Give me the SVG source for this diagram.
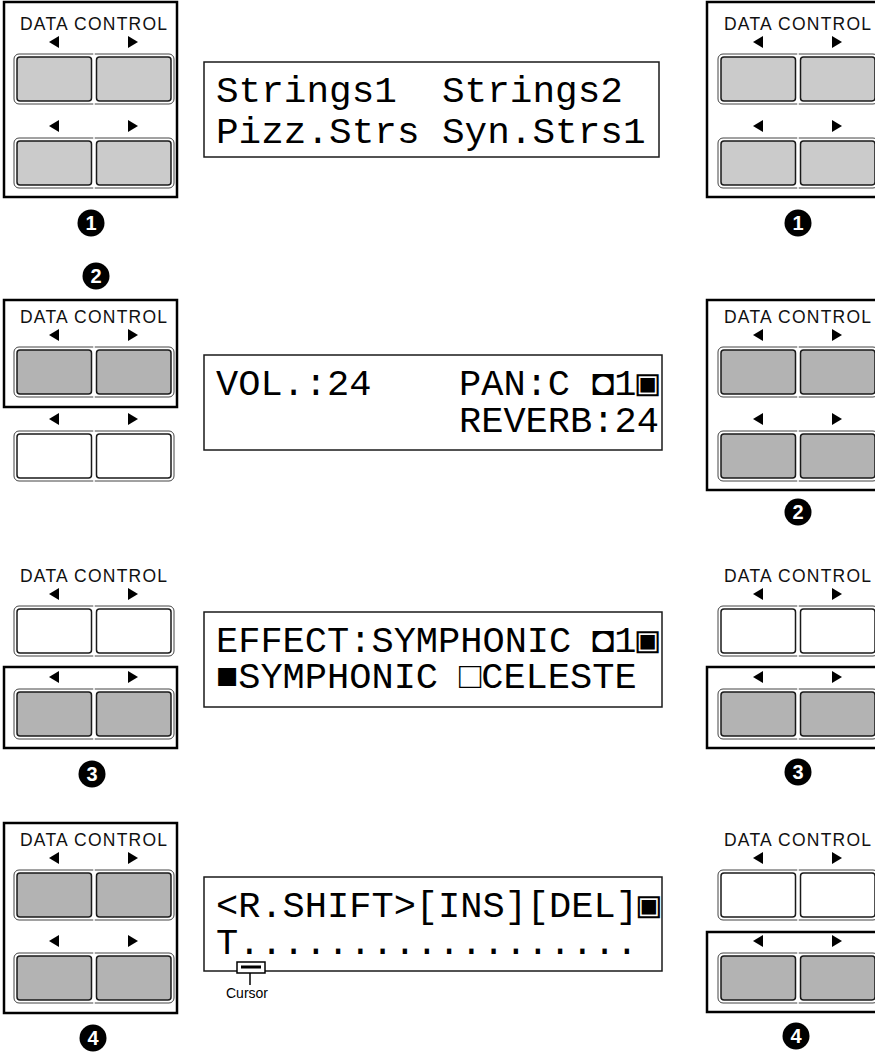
<svg xmlns="http://www.w3.org/2000/svg" xmlns:xlink="http://www.w3.org/1999/xlink" width="875" height="1055" viewBox="0 0 875 1055">
<style>
.frame{fill:none;stroke:#000;stroke-width:2.5}
.lbl{font-family:"Liberation Sans",Arial,sans-serif;font-size:17.5px;fill:#111}
.arr{fill:#000}
.outer{fill:#fff;stroke:#444;stroke-width:1}
.btn{stroke:#1a1a1a;stroke-width:1.5}
.lt{fill:#cbcbcb}
.dk{fill:#b3b3b3}
.wh{fill:#fff}
.lcd{fill:#fff;stroke:#1a1a1a;stroke-width:1.5}
.lcdt{font-family:"Liberation Mono","DejaVu Sans Mono",monospace;font-size:37px;fill:#000}
.lcdt1{font-size:37.7px}
.num circle{fill:#000}
.num text{font-family:"Liberation Sans",Arial,sans-serif;font-weight:bold;font-size:20px;fill:#fff;text-anchor:middle}
.cap{font-family:"Liberation Sans",Arial,sans-serif;font-size:14px;fill:#000;text-anchor:middle}
</style>
<defs>
<g id="pair">
<rect class="outer" x="0" y="0" width="160" height="50" rx="5"/>
<rect class="btn" x="3" y="3" width="74.5" height="44" rx="3"/>
<rect class="btn" x="82.5" y="3" width="74.5" height="44" rx="3"/>
<line x1="80" y1="-1" x2="80" y2="51" stroke="#fff" stroke-width="1.5"/>
</g>
<g id="arrows">
<polygon class="arr" points="35,0 45,-6 45,6"/>
<polygon class="arr" points="114,-6 124,0 114,6"/>
</g>
</defs>

<g id="panel-1-left">
<rect class="frame" x="4" y="2" width="173" height="195"/>
<text class="lbl" x="20" y="30" textLength="147" lengthAdjust="spacing">DATA CONTROL</text>
<use xlink:href="#arrows" x="14" y="42"/>
<use xlink:href="#pair" x="14" y="54" class="lt"/>
<use xlink:href="#arrows" x="14" y="126"/>
<use xlink:href="#pair" x="14" y="138" class="lt"/>
</g>
<g id="panel-1-right">
<rect class="frame" x="707" y="2" width="200" height="195"/>
<text class="lbl" x="724" y="30" textLength="147" lengthAdjust="spacing">DATA CONTROL</text>
<use xlink:href="#arrows" x="718" y="42"/>
<use xlink:href="#pair" x="718" y="54" class="lt"/>
<use xlink:href="#arrows" x="718" y="126"/>
<use xlink:href="#pair" x="718" y="138" class="lt"/>
</g>

<g id="panel-2-left">
<rect class="frame" x="4" y="300" width="173" height="107"/>
<text class="lbl" x="20" y="323" textLength="147" lengthAdjust="spacing">DATA CONTROL</text>
<use xlink:href="#arrows" x="14" y="335"/>
<use xlink:href="#pair" x="14" y="347" class="dk"/>
<use xlink:href="#arrows" x="14" y="419"/>
<use xlink:href="#pair" x="14" y="431" class="wh"/>
</g>
<g id="panel-2-right">
<rect class="frame" x="707" y="300" width="200" height="190"/>
<text class="lbl" x="724" y="323" textLength="147" lengthAdjust="spacing">DATA CONTROL</text>
<use xlink:href="#arrows" x="718" y="335"/>
<use xlink:href="#pair" x="718" y="347" class="dk"/>
<use xlink:href="#arrows" x="718" y="419"/>
<use xlink:href="#pair" x="718" y="431" class="dk"/>
</g>

<g id="panel-3-left">
<rect class="frame" x="4" y="667" width="173" height="81"/>
<text class="lbl" x="20" y="582" textLength="147" lengthAdjust="spacing">DATA CONTROL</text>
<use xlink:href="#arrows" x="14" y="594"/>
<use xlink:href="#pair" x="14" y="606" class="wh"/>
<use xlink:href="#arrows" x="14" y="677"/>
<use xlink:href="#pair" x="14" y="689" class="dk"/>
</g>
<g id="panel-3-right">
<rect class="frame" x="707" y="667" width="200" height="81"/>
<text class="lbl" x="724" y="582" textLength="147" lengthAdjust="spacing">DATA CONTROL</text>
<use xlink:href="#arrows" x="718" y="594"/>
<use xlink:href="#pair" x="718" y="606" class="wh"/>
<use xlink:href="#arrows" x="718" y="677"/>
<use xlink:href="#pair" x="718" y="689" class="dk"/>
</g>

<g id="panel-4-left">
<rect class="frame" x="4" y="823" width="173" height="190"/>
<text class="lbl" x="20" y="846" textLength="147" lengthAdjust="spacing">DATA CONTROL</text>
<use xlink:href="#arrows" x="14" y="858"/>
<use xlink:href="#pair" x="14" y="870" class="dk"/>
<use xlink:href="#arrows" x="14" y="941"/>
<use xlink:href="#pair" x="14" y="953" class="dk"/>
</g>
<g id="panel-4-right">
<rect class="frame" x="707" y="932" width="200" height="80"/>
<text class="lbl" x="724" y="846" textLength="147" lengthAdjust="spacing">DATA CONTROL</text>
<use xlink:href="#arrows" x="718" y="858"/>
<use xlink:href="#pair" x="718" y="870" class="wh"/>
<use xlink:href="#arrows" x="718" y="941"/>
<use xlink:href="#pair" x="718" y="953" class="dk"/>
</g>

<g id="lcd-1">
<rect class="lcd" x="204" y="62" width="455" height="95"/>
<text class="lcdt lcdt1" x="216" y="102">Strings1</text>
<text class="lcdt lcdt1" x="442" y="102">Strings2</text>
<text class="lcdt lcdt1" x="216" y="143">Pizz.Strs</text>
<text class="lcdt lcdt1" x="442" y="143">Syn.Strs1</text>
</g>
<g id="lcd-2">
<rect class="lcd" x="204" y="355" width="458" height="95"/>
<text class="lcdt" x="216" y="395">VOL.:24</text>
<text class="lcdt" x="459" y="395">PAN:C</text>
<text class="lcdt" x="592" y="395">◘1▣</text>
<text class="lcdt" x="459" y="432">REVERB:24</text>
</g>
<g id="lcd-3">
<rect class="lcd" x="204" y="612" width="458" height="95"/>
<text class="lcdt" x="216" y="652">EFFECT:SYMPHONIC</text>
<text class="lcdt" x="592" y="652">◘1▣</text>
<text class="lcdt" x="216" y="688">■SYMPHONIC</text>
<text class="lcdt" x="459" y="688">□CELESTE</text>
</g>
<g id="lcd-4">
<rect class="lcd" x="204" y="877" width="458" height="94"/>
<text class="lcdt" x="216" y="917">&lt;R.SHIFT&gt;[INS][DEL]▣</text>
<text class="lcdt" x="216" y="954">T..................</text>
</g>

<g id="cursor-marker">
<rect x="237" y="962" width="28" height="11" fill="#fff" stroke="#000" stroke-width="1.5"/>
<rect x="241" y="965.5" width="20" height="3" fill="#000"/>
<line x1="250" y1="973" x2="250" y2="985" stroke="#000" stroke-width="1.5"/>
<text class="cap" x="247" y="998">Cursor</text>
</g>

<g id="step-1-left" class="num"><circle cx="91" cy="223" r="13.5"/><text x="91" y="230">1</text></g>
<g id="step-1-right" class="num"><circle cx="798" cy="223" r="13.5"/><text x="798" y="230">1</text></g>
<g id="step-2-left" class="num"><circle cx="96" cy="276" r="13.5"/><text x="96" y="283">2</text></g>
<g id="step-2-right" class="num"><circle cx="798" cy="512" r="13.5"/><text x="798" y="519">2</text></g>
<g id="step-3-left" class="num"><circle cx="92" cy="774" r="13.5"/><text x="92" y="781">3</text></g>
<g id="step-3-right" class="num"><circle cx="798" cy="772" r="13.5"/><text x="798" y="779">3</text></g>
<g id="step-4-left" class="num"><circle cx="93" cy="1038" r="13.5"/><text x="93" y="1045">4</text></g>
<g id="step-4-right" class="num"><circle cx="796" cy="1036" r="13.5"/><text x="796" y="1043">4</text></g>

<g id="connectors"/>
</svg>
